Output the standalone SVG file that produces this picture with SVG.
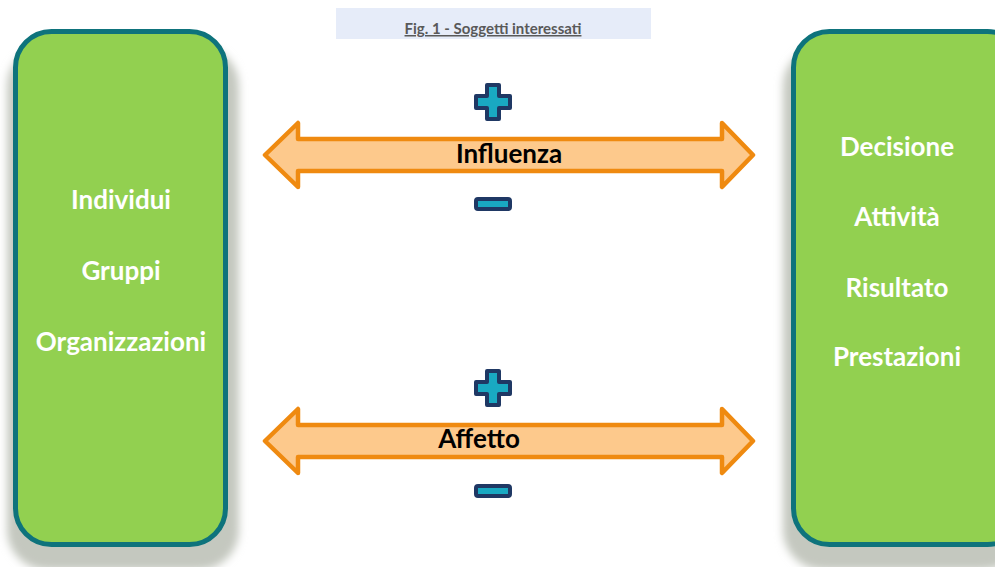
<svg xmlns="http://www.w3.org/2000/svg" width="995" height="567" viewBox="0 0 995 567">
  <defs>
    <filter id="shadow" x="-20%" y="-10%" width="140%" height="120%">
      <feGaussianBlur stdDeviation="4"/>
    </filter>
    <style>
      .panel { fill: #92d050; stroke: #0e737c; stroke-width: 5; }
      .panel-shadow { fill: #c4c8bf; filter: url(#shadow); }
      .panel-text { font-family: Lato, "Open Sans", sans-serif; font-weight: bold; font-size: 26px; fill: #ffffff; text-anchor: middle; }
      .arrow { fill: #fdc98c; stroke: #ef8a10; stroke-width: 4.5; stroke-linejoin: round; }
      .arrow-text { font-family: Lato, "Open Sans", sans-serif; font-weight: bold; font-size: 26px; fill: #000000; text-anchor: middle; }
      .sign { fill: #19a9c2; stroke: #1f3864; stroke-width: 4; stroke-linejoin: round; }
      .title-bg { fill: #e6ecf9; }
      .title { font-family: Lato, "Open Sans", sans-serif; font-weight: bold; font-size: 15px; fill: #595959; text-anchor: middle; text-decoration: underline; }
    </style>
    <!-- plus / minus glyph shapes, centred at the origin -->
    <path id="plus" d="M-6,-17 H6 V-6 H17 V6 H6 V17 H-6 V6 H-17 V-6 H-6 Z"/>
    <rect id="minus" x="-17" y="-5" width="34" height="10" rx="2"/>
    <!-- double-headed arrow, centred vertically at 0 -->
    <path id="dblarrow" d="M265,0 L298,-32 V-16 H722 V-32 L753,0 L722,32 V16 H298 V32 Z"/>
  </defs>

  <!-- caption -->
  <g id="caption">
    <rect class="title-bg" x="336" y="8" width="315" height="31"/>
    <text class="title" x="493" y="34">Fig. 1 - Soggetti interessati</text>
  </g>

  <!-- left panel -->
  <g id="soggetti">
    <rect class="panel-shadow" x="7" y="46" width="232" height="524" rx="40"/>
    <rect class="panel" x="15.5" y="31.5" width="210" height="513" rx="36"/>
    <text class="panel-text" x="121" y="209">Individui</text>
    <text class="panel-text" x="121" y="280">Gruppi</text>
    <text class="panel-text" x="121" y="351">Organizzazioni</text>
  </g>

  <!-- right panel -->
  <g id="oggetti">
    <rect class="panel-shadow" x="783" y="46" width="240" height="524" rx="40"/>
    <rect class="panel" x="793.5" y="31.5" width="230" height="513" rx="36"/>
    <text class="panel-text" x="897" y="156">Decisione</text>
    <text class="panel-text" x="897" y="226">Attività</text>
    <text class="panel-text" x="897" y="297">Risultato</text>
    <text class="panel-text" x="897" y="366">Prestazioni</text>
  </g>

  <!-- connectors -->
  <g id="connectors">
    <g id="influenza">
      <use href="#dblarrow" class="arrow" transform="translate(0,155)"/>
      <text class="arrow-text" x="509" y="163">Influenza</text>
      <use href="#plus" class="sign" transform="translate(493,102)"/>
      <use href="#minus" class="sign" transform="translate(493,204)"/>
    </g>
    <g id="affetto">
      <use href="#dblarrow" class="arrow" transform="translate(0,441)"/>
      <text class="arrow-text" x="479" y="448">Affetto</text>
      <use href="#plus" class="sign" transform="translate(493,388)"/>
      <use href="#minus" class="sign" transform="translate(493,491)"/>
    </g>
  </g>
</svg>
